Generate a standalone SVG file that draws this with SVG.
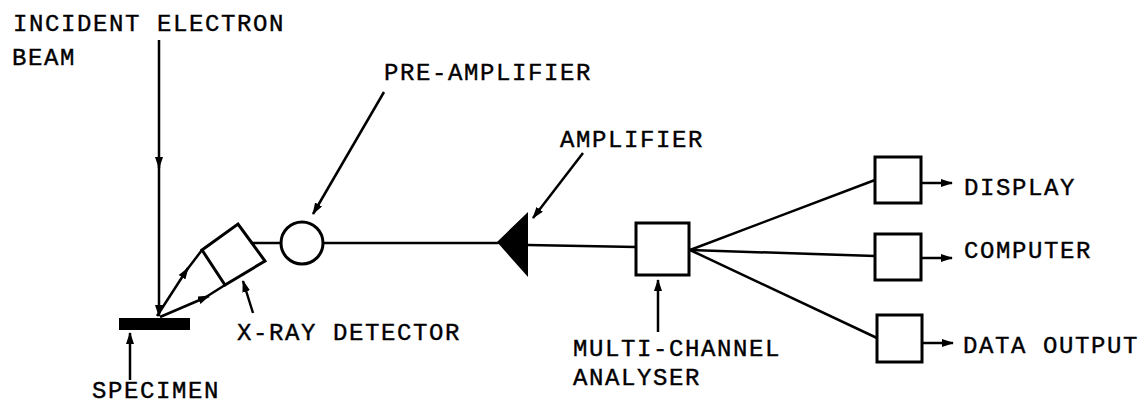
<svg xmlns="http://www.w3.org/2000/svg" width="1144" height="405" viewBox="0 0 1144 405">
<style>
  text { font-family: "Liberation Mono", "DejaVu Sans Mono", monospace; font-size: 24px; letter-spacing: 1.6px; fill: #000; stroke: #000; stroke-width: 0.4; }
  .ln { stroke: #000; stroke-width: 2.5; fill: none; stroke-linecap: round; }
  .box { stroke: #000; stroke-width: 3; fill: #fff; }
  .arr { stroke: #000; stroke-width: 2.5; fill: none; marker-end: url(#ah); }
</style>
<defs>
  <marker id="ah" markerWidth="12" markerHeight="8" refX="11" refY="4" orient="auto" markerUnits="userSpaceOnUse">
    <path d="M0,0 L12,4 L0,8 Z" fill="#000"/>
  </marker>
</defs>
<rect width="1144" height="405" fill="#fff"/>

<g id="connectors">
  <!-- incident beam -->
  <line class="arr" x1="159" y1="40" x2="159" y2="168"/>
  <line class="arr" x1="159" y1="165" x2="159" y2="316"/>
  <!-- x-rays from specimen to detector -->
  <line class="arr" x1="157" y1="316" x2="188" y2="268"/>
  <line class="ln" x1="186" y1="271" x2="202" y2="250"/>
  <line class="arr" x1="160" y1="317" x2="209" y2="296"/>
  <line class="ln" x1="206" y1="297" x2="225" y2="285"/>
  <!-- detector to preamp -->
  <line class="ln" x1="252" y1="243" x2="281" y2="243"/>
  <!-- preamp to amplifier -->
  <line class="ln" x1="323" y1="243" x2="498" y2="243"/>
  <!-- amplifier to MCA -->
  <line class="ln" x1="528" y1="245" x2="636" y2="247"/>
  <!-- fan out -->
  <line class="ln" x1="690" y1="250" x2="875" y2="180"/>
  <line class="ln" x1="690" y1="250" x2="875" y2="256"/>
  <line class="ln" x1="690" y1="250" x2="877" y2="338"/>
  <!-- outputs -->
  <line class="arr" x1="921" y1="183" x2="952" y2="183"/>
  <line class="arr" x1="921" y1="258" x2="952" y2="258"/>
  <line class="arr" x1="922" y1="343" x2="953" y2="343"/>
  <!-- label pointers -->
  <line class="arr" x1="384" y1="92" x2="313" y2="214"/>
  <line class="arr" x1="583" y1="153" x2="533" y2="218"/>
  <line class="arr" x1="658" y1="332" x2="658" y2="280"/>
  <line class="arr" x1="253" y1="313" x2="243" y2="281"/>
  <line class="arr" x1="130" y1="380" x2="130" y2="333"/>
</g>

<g id="specimen">
  <rect x="119" y="318" width="71" height="12" fill="#000"/>
  <text x="92" y="398">SPECIMEN</text>
</g>

<g id="beam-label">
  <text x="13" y="31">INCIDENT ELECTRON</text>
  <text x="12" y="65">BEAM</text>
</g>

<g id="xray-detector">
  <polygon class="box" points="202,250 238,224 265,261 225,285"/>
  <text x="237" y="340">X-RAY DETECTOR</text>
</g>

<g id="pre-amplifier">
  <circle class="box" cx="302" cy="243" r="21"/>
  <text x="384" y="80">PRE-AMPLIFIER</text>
</g>

<g id="amplifier">
  <polygon points="497,242 528,212 528,277" fill="#000"/>
  <text x="560" y="147">AMPLIFIER</text>
</g>

<g id="mca">
  <rect class="box" x="636" y="223" width="53" height="52"/>
  <text x="573" y="356">MULTI-CHANNEL</text>
  <text x="573" y="385">ANALYSER</text>
</g>

<g id="display">
  <rect class="box" x="875" y="157" width="46" height="46"/>
  <text x="964" y="195">DISPLAY</text>
</g>

<g id="computer">
  <rect class="box" x="875" y="234" width="46" height="46"/>
  <text x="964" y="258">COMPUTER</text>
</g>

<g id="data-output">
  <rect class="box" x="877" y="315" width="45" height="47"/>
  <text x="963" y="353">DATA OUTPUT</text>
</g>
</svg>
